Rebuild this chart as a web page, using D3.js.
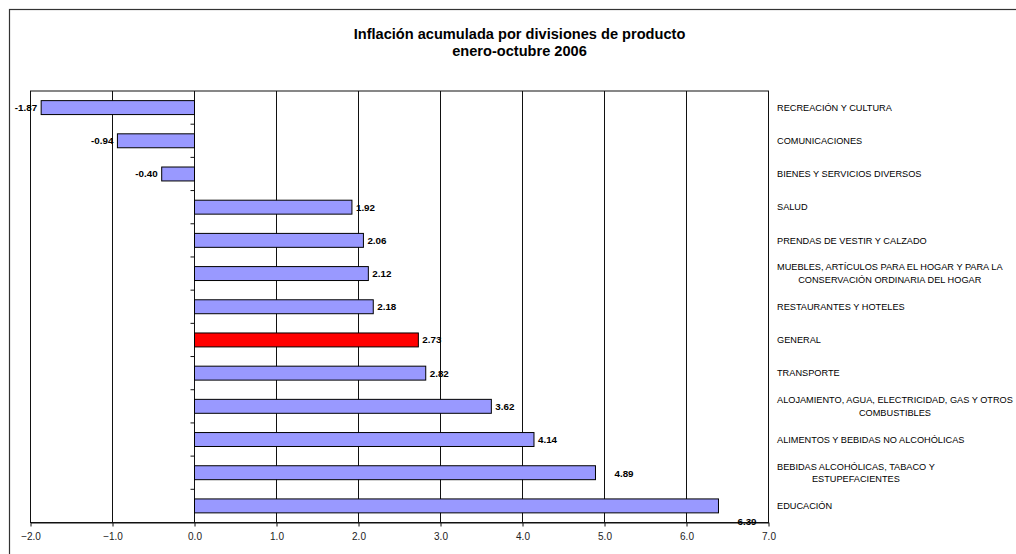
<!DOCTYPE html>
<html>
<head>
<meta charset="utf-8">
<script src="https://cdn.jsdelivr.net/npm/d3@7"></script>
<style>
  body { margin: 0; background: #fff; }
  svg { display: block; font-family: "Liberation Sans", Arial, sans-serif; }
</style>
</head>
<body>
<div id="chart"></div>
<script>
// chart data, top to bottom as drawn
const categories = [
    "RECREACIÓN Y CULTURA",
    "COMUNICACIONES",
    "BIENES Y SERVICIOS DIVERSOS",
    "SALUD",
    "PRENDAS DE VESTIR Y CALZADO",
    "MUEBLES, ARTÍCULOS PARA EL HOGAR Y PARA LA|CONSERVACIÓN ORDINARIA DEL HOGAR",
    "RESTAURANTES Y HOTELES",
    "GENERAL",
    "TRANSPORTE",
    "ALOJAMIENTO, AGUA, ELECTRICIDAD, GAS Y OTROS|COMBUSTIBLES",
    "ALIMENTOS Y BEBIDAS NO ALCOHÓLICAS",
    "BEBIDAS ALCOHÓLICAS, TABACO Y|ESTUPEFACIENTES",
    "EDUCACIÓN"
]
const values = [-1.87, -0.94, -0.40, 1.92, 2.06, 2.12, 2.18, 2.73, 2.82, 3.62, 4.14, 4.89, 6.39]
const highlight = ["GENERAL"]
const xTicks = [-2, -1, 0, 1, 2, 3, 4, 5, 6, 7]
const titleLines = ["Inflación acumulada por divisiones de producto", "enero-octubre 2006"]

const width = 1016, height = 554
const plot = { left: 30.5, top: 91, right: 768.5, bottom: 522.5 }

const svg = d3.select("#chart").append("svg")
    .attr("width", width)
    .attr("height", height)

// outer frame of the chart object (right and bottom edges fall off the picture)
svg.append("rect")
    .attr("x", 9.5).attr("y", 9.5)
    .attr("width", 1020).attr("height", 560)
    .attr("fill", "none")
    .attr("stroke", "#333")
    .attr("stroke-width", 1.2)

// title
svg.append("g").selectAll("text")
    .data(titleLines)
    .enter()
    .append("text")
    .attr("x", 519.5)
    .attr("y", (d, i) => 39 + i * 17)
    .attr("text-anchor", "middle")
    .style("font-weight", "bold")
    .style("font-size", "14.6px")
    .text(d => d)

const x = d3.scaleLinear()
    .domain([-2, 7])
    .range([plot.left, plot.right])

const y = d3.scaleBand()
    .domain(categories)
    .range([plot.top, plot.bottom])
    .paddingInner(0.58)
    .paddingOuter(0.29)

const yStep = (plot.bottom - plot.top) / categories.length

// vertical gridlines
svg.append("g").selectAll("line")
    .data(xTicks)
    .enter()
    .append("line")
    .attr("x1", d => x(d)).attr("x2", d => x(d))
    .attr("y1", plot.top).attr("y2", plot.bottom)
    .attr("stroke", "#111")
    .attr("stroke-width", 1)

// plot border
svg.append("rect")
    .attr("x", plot.left).attr("y", plot.top)
    .attr("width", plot.right - plot.left)
    .attr("height", plot.bottom - plot.top)
    .attr("fill", "none")
    .attr("stroke", "#111")

// x axis at bottom
const xAxis = svg.append("g")
    .attr("transform", `translate(0, ${plot.bottom})`)
    .call(d3.axisBottom(x).tickValues(xTicks).tickFormat(d3.format(".1f")).tickSize(4).tickSizeOuter(0))
xAxis.select(".domain").attr("stroke", "#111")
xAxis.selectAll(".tick line").attr("stroke", "#111")
xAxis.selectAll("text")
    .attr("y", 10)
    .attr("dy", "0.71em")
    .style("font-family", "Liberation Sans, Arial, sans-serif")
    .style("font-size", "10px")
    .attr("fill", "#222")

// category axis ticks on the zero line
const bounds = d3.range(1, categories.length).map(i => plot.top + i * yStep)
svg.append("g").selectAll("line")
    .data(bounds)
    .enter()
    .append("line")
    .attr("x1", x(0) - 4).attr("x2", x(0))
    .attr("y1", d => d).attr("y2", d => d)
    .attr("stroke", "#111")

// bars
svg.append("g").selectAll("rect")
    .data(categories)
    .enter()
    .append("rect")
    .attr("x", (d, i) => x(Math.min(0, values[i])))
    .attr("y", d => y(d))
    .attr("width", (d, i) => Math.abs(x(values[i]) - x(0)))
    .attr("height", y.bandwidth())
    .attr("fill", d => highlight.includes(d) ? "#FF0000" : "#9999FF")
    .attr("stroke", "#000")
    .attr("stroke-width", 1)

// value labels, a couple of them were moved by hand in the original
const labelShift = { 11: [15, 1], 12: [15, 16] }
svg.append("g").selectAll("text")
    .data(categories)
    .enter()
    .append("text")
    .attr("x", (d, i) => {
        let s = labelShift[i] ? labelShift[i][0] : 0
        return values[i] < 0 ? x(values[i]) - 4 : x(values[i]) + 4 + s
    })
    .attr("y", (d, i) => {
        let s = labelShift[i] ? labelShift[i][1] : 0
        return y(d) + y.bandwidth() / 2 + s
    })
    .attr("dy", "0.35em")
    .attr("text-anchor", (d, i) => values[i] < 0 ? "end" : "start")
    .style("font-weight", "bold")
    .style("font-size", "9.8px")
    .text((d, i) => values[i].toFixed(2))

// category names on the right, wrapped ones are centred under the first line
const labelX = 777
const catG = svg.append("g")
categories.forEach((c, i) => {
    const lines = c.split("|")
    const cy = y(c) + y.bandwidth() / 2
    const lh = 12.8
    const first = catG.append("text")
        .attr("x", labelX)
        .attr("y", cy - (lines.length - 1) * lh / 2)
        .attr("dy", "0.35em")
        .style("font-size", "9.2px")
        .text(lines[0])
    if (lines.length > 1) {
        const w = first.node().getComputedTextLength()
        catG.append("text")
            .attr("x", labelX + w / 2)
            .attr("y", cy + lh / 2)
            .attr("dy", "0.35em")
            .attr("text-anchor", "middle")
            .style("font-size", "9.2px")
            .text(lines[1])
    }
})
</script>
</body>
</html>
